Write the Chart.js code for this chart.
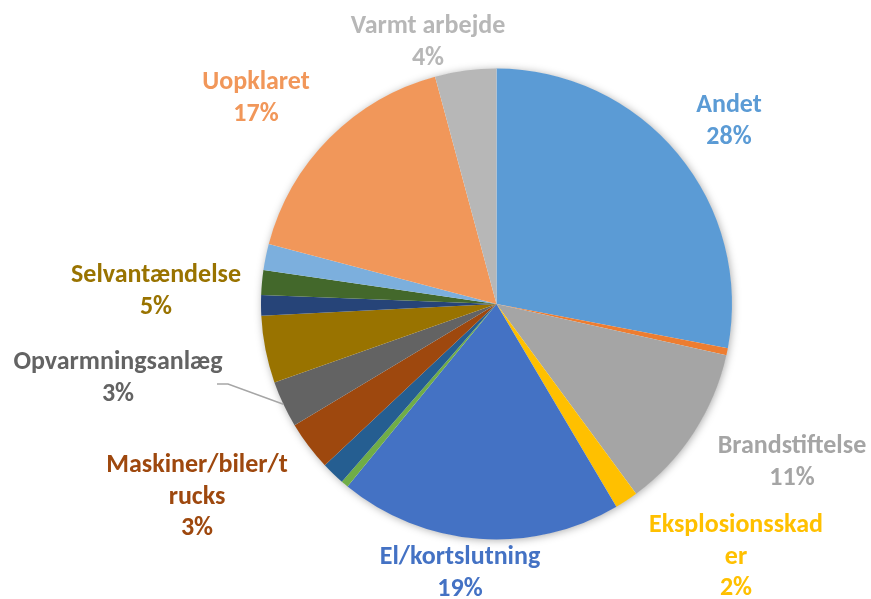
<!DOCTYPE html>
<html>
<head>
<meta charset="utf-8">
<script src="https://cdn.jsdelivr.net/npm/chart.js@4.4.1/dist/chart.umd.min.js"></script>
<style>
  html, body { margin: 0; padding: 0; background: #fff; }
  #wrap { width: 871px; height: 599px; }
</style>
</head>
<body>
<div id="wrap"><canvas id="pie" width="871" height="599"></canvas></div>
<script>
// slices clockwise from 12 o'clock, the unnamed ones carry no label in the picture
const categories = [
  "Andet", "", "Brandstiftelse", "Eksplosionsskader", "El/kortslutning",
  "", "", "Maskiner/biler/trucks", "Opvarmningsanlæg", "Selvantændelse",
  "", "", "", "Uopklaret", "Varmt arbejde",
]
const shares = [28, 0.5, 11.4, 1.6, 19.4, 0.5, 1.6, 3.4, 3.2, 4.6, 1.4, 1.7, 1.8, 16.7, 4.2]

const SLICE_COLORS = [
  "#5B9BD5", "#ED7D31", "#A5A5A5", "#FFC000", "#4472C4",
  "#70AD47", "#255E91", "#9E480E", "#636363", "#997300",
  "#264478", "#43682B", "#7CAFDD", "#F1975A", "#B7B7B7",
]

const total = shares.reduce((a, b) => a + b, 0)

// soft shadow under the whole pie
const pieShadow = {
  id: "pieShadow",
  beforeDatasetsDraw(chart) {
    const arc = chart.getDatasetMeta(0).data[0]
    if (!arc) return
    const ctx = chart.ctx
    ctx.save()
    ctx.shadowColor = "rgba(0,0,0,0.35)"
    ctx.shadowBlur = 9
    ctx.shadowOffsetX = 1
    ctx.shadowOffsetY = 1
    ctx.fillStyle = "#fff"
    ctx.beginPath()
    ctx.arc(arc.x, arc.y, arc.outerRadius - 0.5, 0, Math.PI * 2)
    ctx.fill()
    ctx.restore()
  },
}

const sliceLabels = {
  id: "sliceLabels",
  afterDatasetsDraw(chart, args, opts) {
    const ctx = chart.ctx
    const arcs = chart.getDatasetMeta(0).data
    const values = chart.data.datasets[0].data
    ctx.save()
    ctx.font = opts.font
    ctx.textAlign = "center"
    ctx.textBaseline = "alphabetic"
    opts.items.forEach((item) => {
      const i = item.index
      const name = chart.data.labels[i]
      const pct = Math.round((values[i] / total) * 100) + "%"
      const lines = item.breakAt
        ? [name.slice(0, item.breakAt), name.slice(item.breakAt)]
        : [name]
      lines.push(pct)
      ctx.fillStyle = SLICE_COLORS[i]
      lines.forEach((t, k) => ctx.fillText(t, item.x, item.y + k * opts.lineHeight))

      if (item.leader) {
        const a = arcs[i]
        const mid = (a.startAngle + a.endAngle) / 2
        const ex = a.x + a.outerRadius * Math.cos(mid)
        const ey = a.y + a.outerRadius * Math.sin(mid)
        ctx.strokeStyle = "#A6A6A6"
        ctx.lineWidth = 1.5
        ctx.beginPath()
        ctx.moveTo(item.leader[0], item.leader[1])
        ctx.lineTo(item.leader[0] + 11, item.leader[1])
        ctx.lineTo(ex, ey)
        ctx.stroke()
      }
    })
    ctx.restore()
  },
}

new Chart(document.getElementById("pie"), {
  type: "pie",
  data: {
    labels: categories,
    datasets: [
      {
        data: shares,
        backgroundColor: SLICE_COLORS,
        borderWidth: 0,
      },
    ],
  },
  options: {
    responsive: false,
    devicePixelRatio: 1,
    animation: false,
    events: [],
    layout: {
      padding: { top: 68.5, bottom: 59.5, left: 200, right: 78 },
    },
    plugins: {
      legend: { display: false },
      tooltip: { enabled: false },
      sliceLabels: {
        font: '700 26px Carlito, Calibri, "Liberation Sans Narrow", "DejaVu Sans Condensed", Roboto, sans-serif',
        lineHeight: 31.5,
        items: [
          { index: 0, x: 729, y: 112 },
          { index: 2, x: 792, y: 453 },
          { index: 3, x: 736, y: 532, breakAt: 15 },
          { index: 4, x: 460, y: 564 },
          { index: 7, x: 197, y: 472, breakAt: 16 },
          { index: 8, x: 118, y: 369, leader: [217, 384] },
          { index: 9, x: 156, y: 282 },
          { index: 13, x: 256, y: 89 },
          { index: 14, x: 428, y: 33 },
        ],
      },
    },
  },
  plugins: [pieShadow, sliceLabels],
})
</script>
</body>
</html>
